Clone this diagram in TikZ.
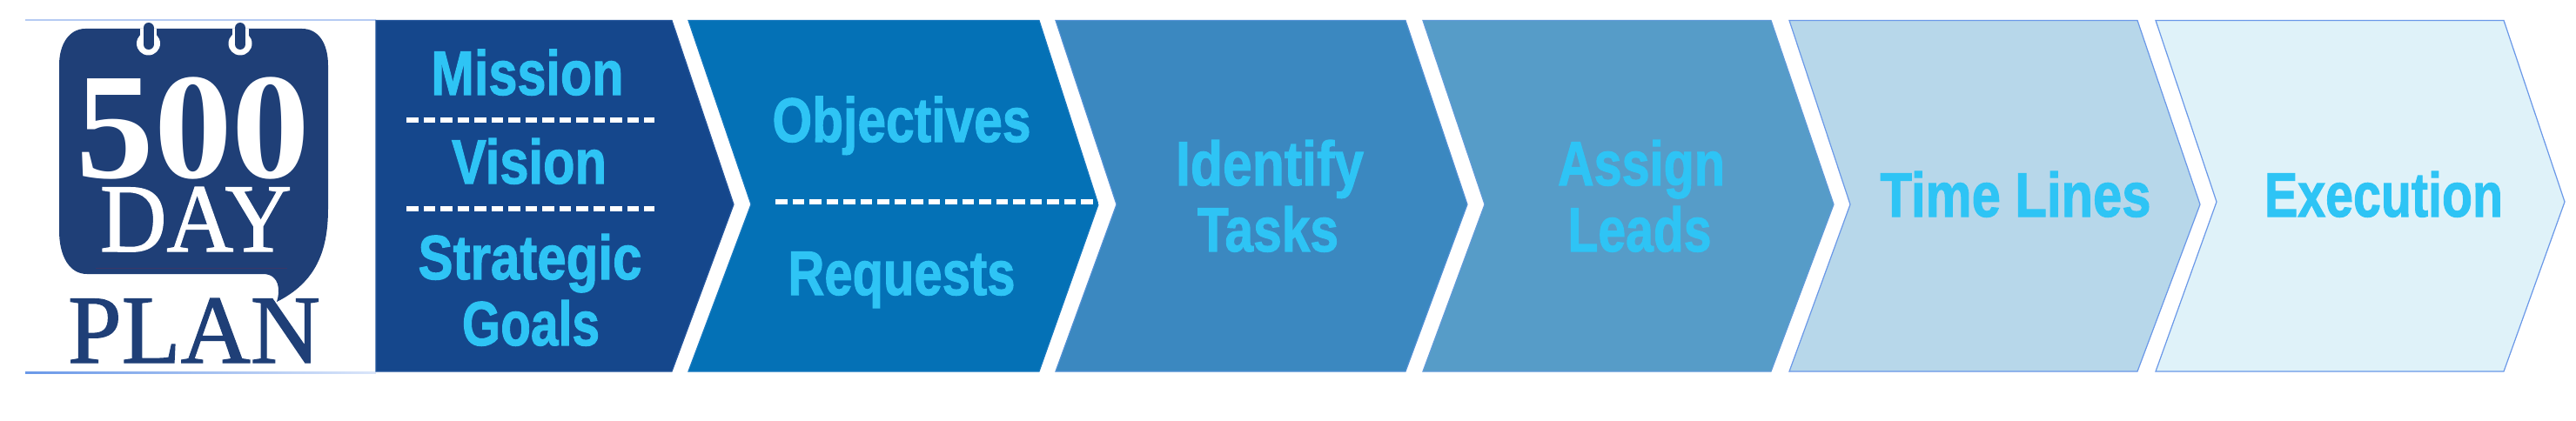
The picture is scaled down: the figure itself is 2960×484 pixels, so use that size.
\documentclass[tikz,border=0pt]{standalone}
\usepackage{fontspec}
\usepackage{graphicx}
\setmainfont{Liberation Serif}
\newfontfamily\lblfont{Liberation Sans Bold}[FakeBold=1.6]
\newfontfamily\logofont{Liberation Serif}[FakeBold=1.2]
\definecolor{navy}{HTML}{1F3F77}
\definecolor{cA}{HTML}{15478C}
\definecolor{cB}{HTML}{0471B6}
\definecolor{cC}{HTML}{3B88C0}
\definecolor{cD}{HTML}{569CC8}
\definecolor{cE}{HTML}{B7D7EA}
\definecolor{cF}{HTML}{DFF2F9}
\definecolor{lbl}{HTML}{2EC4F5}
\definecolor{edge}{HTML}{6A98E8}
\tikzset{
  chev/.style={draw=edge,line width=1.2pt,line join=miter},
  sep/.style={draw=white,line width=6pt,dash pattern=on 13.5pt off 6pt},
  lab/.style={anchor=base,inner sep=0pt,outer sep=0pt,text=lbl,font=\lblfont\fontsize{72}{72}\selectfont},
  logow/.style={anchor=base,inner sep=0pt,outer sep=0pt,text=white},
  logod/.style={anchor=base,inner sep=0pt,outer sep=0pt,text=navy},
}
\newcommand{\chevron}[7]{% fill, tl, tr, tip, notch, mid, edge
  \path[chev,draw=#7,fill=#1] (#2,23.5) -- (#3,23.5) -- (#4,#6) -- (#3,427) -- (#2,427) -- (#5,#6) -- cycle;}
\newcommand{\lab}[5]{\node[lab] (#1) at (#2,#3) {\resizebox{#4pt}{\height}{#5}};}
\begin{document}
\begin{tikzpicture}[x=1pt,y=-1pt]
\useasboundingbox (0,0) rectangle (2960,484);
\fill[white] (0,0) rectangle (2960,484);
% logo frame lines
\fill[left color=edge!50,right color=edge!50] (29,22.5) rectangle (432,24);
\fill[left color=edge,right color=edge!25] (29,427.5) rectangle (432,429);
% logo bubble
\fill[navy] (98,33) -- (347,33) .. controls (366,33) and (377,50) .. (377,75)
  -- (377,240) .. controls (377,290) and (362,325) .. (318,347)
  .. controls (322,335) and (322,315) .. (302,315)
  -- (100,315) .. controls (80,315) and (68,295) .. (68,265)
  -- (68,75) .. controls (68,50) and (80,33) .. (98,33) -- cycle;
\draw[navy!80!red,line width=1pt,opacity=.6] (110,308) -- (330,308);
% rings
\foreach \rx in {170.5,276}{
  \fill[white] (\rx,50) circle (13.5);
  \fill[white] (\rx-9.5,33) rectangle (\rx+9.5,50);
  \draw[navy,line width=12pt,line cap=round] (\rx,32) -- (\rx,51);
}
% logo text
\node[logow] (n500) at (222,204) {\resizebox{269pt}{\height}{\fontsize{174}{174}\selectfont\bfseries 500}};
\node[logow] (nday) at (225,289) {\resizebox{220pt}{\height}{\logofont\fontsize{112}{112}\selectfont DAY}};
\node[logod] (nplan) at (223,417) {\resizebox{290pt}{\height}{\logofont\fontsize{112}{112}\selectfont PLAN}};
% first block
\path[chev,draw=cA!80!edge,fill=cA] (432,23.5) -- (772,23.5) -- (843,235) -- (772,427) -- (432,427) -- cycle;
\chevron{cB}{791}{1194}{1262}{863}{235}{cB!80!edge}
\chevron{cC}{1213}{1615}{1686}{1283}{235}{cC!50!edge}
\chevron{cD}{1635}{2035}{2107}{1706}{235}{cD!50!edge}
\chevron{cE}{2056}{2456}{2528}{2126}{235}{edge}
\chevron{cF}{2477}{2877}{2947}{2547}{232}{edge}
% dashed separators
\coordinate (s1a) at (467,138); \coordinate (s1b) at (752,138);
\coordinate (s2a) at (467,240); \coordinate (s2b) at (752,240);
\coordinate (s3a) at (891,232); \coordinate (s3b) at (1262,232);
\draw[sep] (s1a) -- (s1b);
\draw[sep] (s2a) -- (s2b);
\draw[sep] (s3a) -- (s3b);
% labels
\lab{mission}{606}{109}{221}{Mission}
\lab{vision}{608}{211}{178}{Vision}
\lab{strategic}{609}{321}{257}{Strategic}
\lab{goals}{610}{397}{158}{Goals}
\lab{objectives}{1036}{163}{297}{Objectives}
\lab{requests}{1036}{339}{261}{Requests}
\lab{identify}{1459}{213}{216}{Identify}
\lab{tasks}{1457}{289}{162}{Tasks}
\lab{assign}{1886}{213}{192}{Assign}
\lab{leads}{1884}{289}{165}{Leads}
\lab{timelines}{2316}{249}{311}{Time Lines}
\lab{execution}{2739}{249}{274}{Execution}
\end{tikzpicture}
\end{document}
